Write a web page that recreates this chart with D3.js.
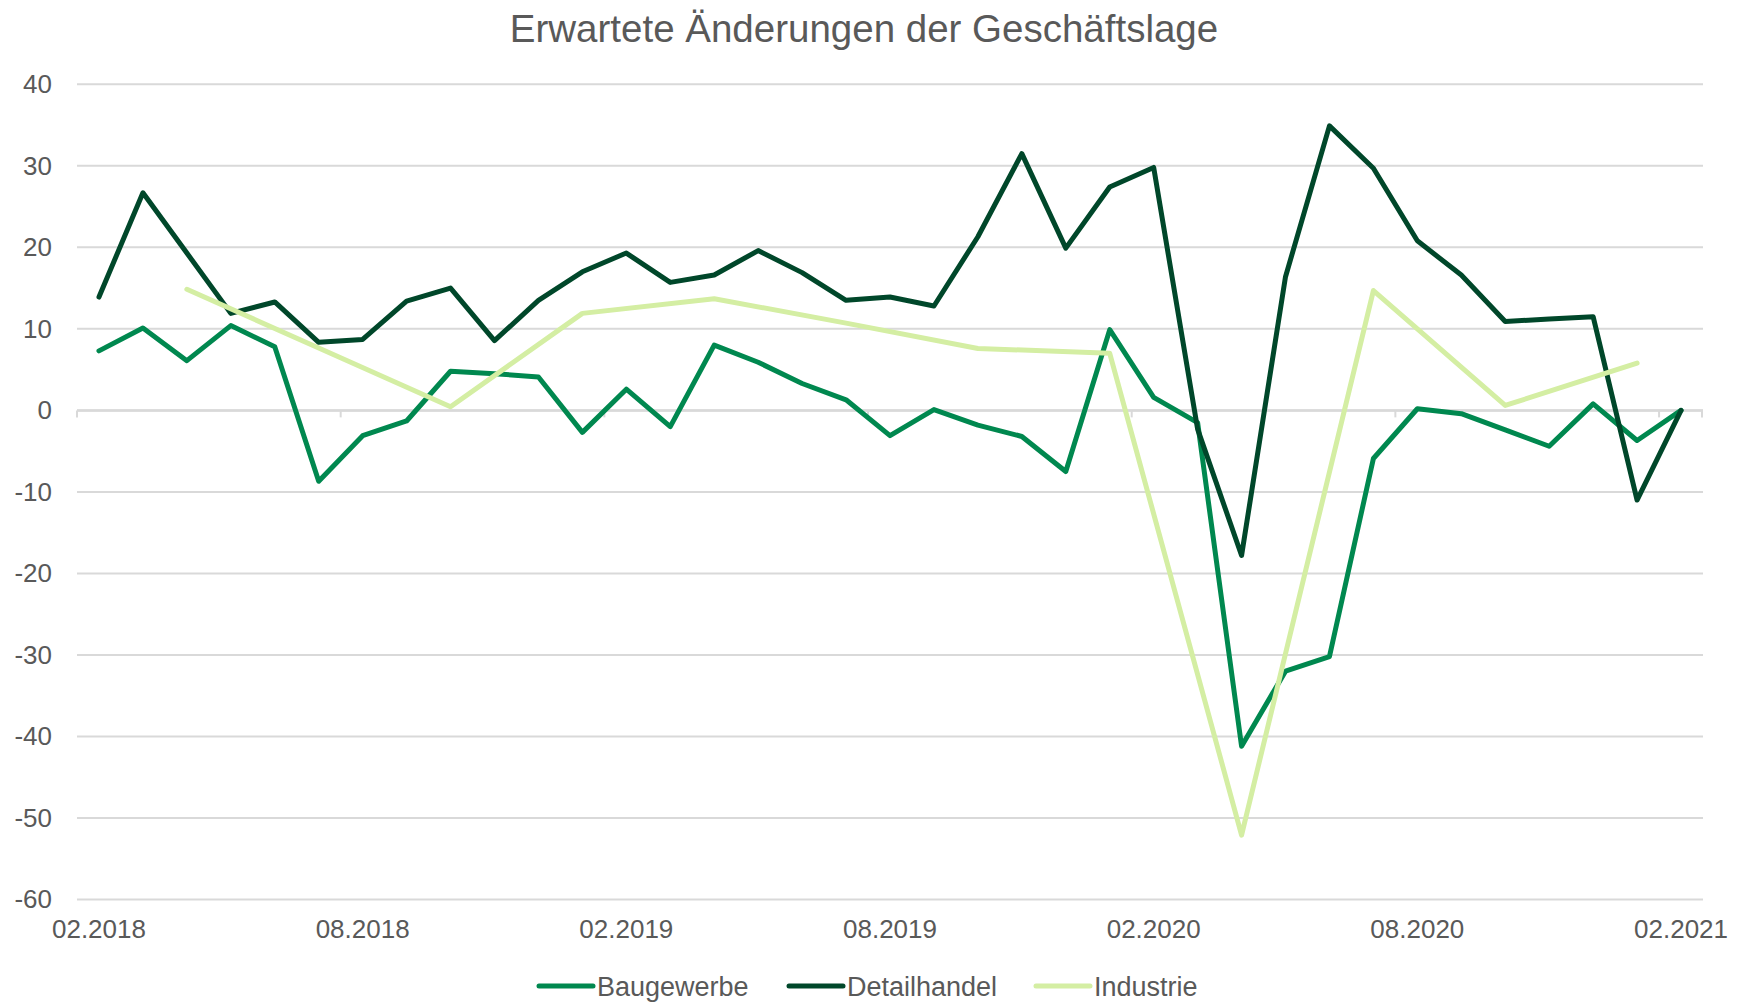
<!DOCTYPE html>
<html>
<head>
<meta charset="utf-8">
<script src="https://cdn.jsdelivr.net/npm/d3@7/dist/d3.min.js"></script>
<style>
  html, body { margin: 0; padding: 0; background: #ffffff; }
  svg { display: block; font-family: "Liberation Sans", Arial, sans-serif; }
</style>
</head>
<body>
<svg id="chart" width="1739" height="1004"></svg>
<script>
const months = ["02.2018","03.2018","04.2018","05.2018","06.2018","07.2018","08.2018","09.2018","10.2018","11.2018","12.2018","01.2019",
  "02.2019","03.2019","04.2019","05.2019","06.2019","07.2019","08.2019","09.2019","10.2019","11.2019","12.2019","01.2020",
  "02.2020","03.2020","04.2020","05.2020","06.2020","07.2020","08.2020","09.2020","10.2020","11.2020","12.2020","01.2021","02.2021"];

const baugewerbe = [7.3, 10.1, 6.1, 10.4, 7.8, -8.7, -3.1, -1.3, 4.8, 4.5, 4.1, -2.7,
  2.6, -2.0, 8.0, 5.9, 3.3, 1.3, -3.1, 0.1, -1.8, -3.2, -7.5, 9.9,
  1.6, -1.5, -41.2, -32.0, -30.2, -5.9, 0.2, -0.4, -2.4, -4.4, 0.8, -3.7, 0.0];

const detailhandel = [13.9, 26.7, 19.3, 11.9, 13.3, 8.35, 8.7, 13.4, 15.0, 8.55, 13.5, 17.0,
  19.3, 15.7, 16.6, 19.6, 16.9, 13.5, 13.9, 12.8, 21.3, 31.5, 19.9, 27.4,
  29.8, -2.3, -17.8, 16.4, 34.9, 29.7, 20.8, 16.6, 10.9, 11.2, 11.5, -11.0, 0.0];

const industrie = [null, null, 14.85, null, null, 7.65, null, null, 0.45, null, null, 11.9,
  null, null, 13.7, null, null, 10.7, null, null, 7.6, null, null, 7.0,
  null, null, -52.1, null, null, 14.7, null, null, 0.6, null, null, 5.8, null];

const yTicks = [40, 30, 20, 10, 0, -10, -20, -30, -40, -50, -60];
const xLabelMonths = ["02.2018","08.2018","02.2019","08.2019","02.2020","08.2020","02.2021"];

const seriesNames = ["Baugewerbe", "Detailhandel", "Industrie"];
const seriesColors = ["#00884f", "#00472a", "#d4eea3"];
const seriesData = [baugewerbe, detailhandel, industrie];

const svg = d3.select("#chart");
const plotLeft = 77, plotRight = 1703, plotTop = 84.3, plotBottom = 899.5;
const textColor = "#595959";

const x = d3.scaleBand().domain(months).range([plotLeft, plotRight]).paddingInner(0).paddingOuter(0);
const cx = m => x(m) + x.bandwidth() / 2;
const y = d3.scaleLinear().domain([-60, 40]).range([plotBottom, plotTop]);

// Title
svg.append("text")
  .attr("x", 864).attr("y", 42)
  .attr("text-anchor", "middle")
  .attr("font-size", 38.5)
  .attr("fill", textColor)
  .text("Erwartete Änderungen der Geschäftslage");

// Gridlines
const grid = svg.append("g");
grid.selectAll("line").data(yTicks).join("line")
  .attr("x1", plotLeft).attr("x2", plotRight)
  .attr("y1", d => y(d)).attr("y2", d => y(d))
  .attr("stroke", "#d9d9d9").attr("stroke-width", 2);

// Y axis labels
const yAxis = d3.axisLeft(y).tickValues(yTicks).tickSize(0).tickPadding(0).tickFormat(d => String(d));
const yg = svg.append("g").attr("transform", `translate(52,0)`).call(yAxis);
yg.select(".domain").remove();
yg.selectAll("text").attr("font-size", 26).attr("fill", textColor)
  .attr("font-family", "'Liberation Sans', Arial, sans-serif");

// X axis line at 0 with ticks
const xAxisLine = svg.append("g");
xAxisLine.append("line")
  .attr("x1", plotLeft).attr("x2", plotRight)
  .attr("y1", y(0)).attr("y2", y(0))
  .attr("stroke", "#d9d9d9").attr("stroke-width", 2.5);
xAxisLine.selectAll("line.tick").data(xLabelMonths).join("line")
  .attr("class", "tick")
  .attr("x1", d => x(d)).attr("x2", d => x(d))
  .attr("y1", y(0)).attr("y2", y(0) + 7)
  .attr("stroke", "#d9d9d9").attr("stroke-width", 2);
xAxisLine.append("line")
  .attr("x1", plotRight - 1).attr("x2", plotRight - 1)
  .attr("y1", y(0)).attr("y2", y(0) + 7)
  .attr("stroke", "#d9d9d9").attr("stroke-width", 2);

// X labels at bottom
svg.append("g").selectAll("text").data(xLabelMonths).join("text")
  .attr("x", d => cx(d)).attr("y", 938)
  .attr("text-anchor", "middle")
  .attr("font-size", 26)
  .attr("fill", textColor)
  .text(d => d);

// Lines
const lineGen = d3.line()
  .x(d => cx(d.m))
  .y(d => y(d.v));

seriesData.forEach((arr, si) => {
  const pts = months.map((m, i) => ({ m, v: arr[i] })).filter(d => d.v !== null);
  svg.append("path")
    .datum(pts)
    .attr("d", lineGen)
    .attr("fill", "none")
    .attr("stroke", seriesColors[si])
    .attr("stroke-width", 5)
    .attr("stroke-linejoin", "round")
    .attr("stroke-linecap", "round");
});

// Legend
const legendItems = [
  { name: seriesNames[0], color: seriesColors[0], x0: 539 },
  { name: seriesNames[1], color: seriesColors[1], x0: 789 },
  { name: seriesNames[2], color: seriesColors[2], x0: 1036 }
];
const lg = svg.append("g");
legendItems.forEach(it => {
  lg.append("line")
    .attr("x1", it.x0).attr("x2", it.x0 + 54)
    .attr("y1", 986).attr("y2", 986)
    .attr("stroke", it.color).attr("stroke-width", 5)
    .attr("stroke-linecap", "round");
  lg.append("text")
    .attr("x", it.x0 + 58).attr("y", 995.5)
    .attr("font-size", 27)
    .attr("fill", textColor)
    .text(it.name);
});
</script>
</body>
</html>
